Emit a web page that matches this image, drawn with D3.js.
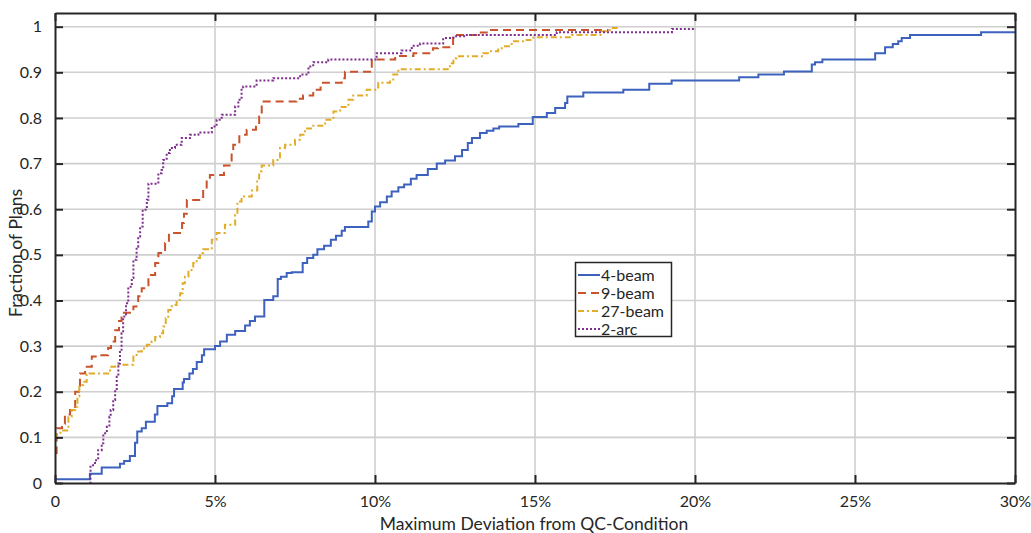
<!DOCTYPE html>
<html><head><meta charset="utf-8">
<script src="https://cdn.jsdelivr.net/npm/d3@7"></script>
<style>
body{margin:0;background:#fff;}
svg{display:block;font-family:Lato,"Open Sans",sans-serif;}
</style></head><body>
<svg id="c" width="1031" height="533"></svg>
<script>
// ---- data (x in %, y = fraction of plans; step-after) ----
const seriesNames = ["4-beam","9-beam","27-beam","2-arc"];
const xTicks = [0,5,10,15,20,25,30];
const xTickLabels = ["0","5%","10%","15%","20%","25%","30%"];
const yTicks = [0,0.1,0.2,0.3,0.4,0.5,0.6,0.7,0.8,0.9,1];
const yTickLabels = ["0","0.1","0.2","0.3","0.4","0.5","0.6","0.7","0.8","0.9","1"];

const beam4X = [0,1.09,1.46,2.03,2.16,2.34,2.5,2.57,2.71,2.84,3.12,3.2,3.51,3.66,3.72,3.99,4.03,4.2,4.31,4.43,4.59,4.66,5.0,5.16,5.37,5.63,5.94,6.09,6.25,6.54,6.82,6.96,7.06,7.24,7.4,7.74,7.88,8.07,8.2,8.41,8.62,8.78,8.96,9.06,9.79,9.9,10.0,10.16,10.37,10.52,10.73,10.91,11.12,11.3,11.65,11.93,12.19,12.5,12.72,12.9,13.03,13.28,13.49,13.7,13.88,14.48,14.93,15.37,15.63,15.94,16.01,16.51,17.76,18.57,19.27,21.38,21.98,22.78,23.65,23.75,23.98,25.63,25.94,26.18,26.35,26.46,26.72,28.94,30];
const beam4Y = [0.008,0.02,0.034,0.042,0.048,0.059,0.088,0.113,0.12,0.134,0.15,0.169,0.175,0.19,0.206,0.22,0.228,0.24,0.25,0.265,0.28,0.293,0.3,0.31,0.325,0.333,0.345,0.355,0.365,0.401,0.409,0.447,0.452,0.46,0.462,0.482,0.493,0.5,0.512,0.52,0.533,0.542,0.553,0.561,0.573,0.595,0.606,0.615,0.628,0.639,0.648,0.654,0.667,0.675,0.688,0.70,0.707,0.716,0.73,0.745,0.756,0.767,0.772,0.777,0.781,0.787,0.802,0.811,0.822,0.833,0.847,0.856,0.862,0.875,0.882,0.889,0.895,0.902,0.917,0.922,0.928,0.942,0.955,0.962,0.968,0.975,0.982,0.988,0.988];

const beam9X = [0,0.05,0.22,0.31,0.47,0.63,0.78,0.94,1.15,1.38,1.66,1.75,1.88,2.0,2.08,2.45,2.6,2.71,2.92,3.13,3.23,3.44,3.56,3.97,4.03,4.12,4.63,4.74,4.84,5.28,5.52,5.57,5.76,5.99,6.28,6.38,6.46,7.55,7.75,8.07,8.3,8.96,9.06,9.9,10.63,11.2,11.81,11.97,12.44,13.19,13.53,17.3];
const beam9Y = [0.066,0.12,0.13,0.15,0.16,0.2,0.24,0.255,0.277,0.28,0.296,0.31,0.335,0.355,0.373,0.387,0.409,0.427,0.456,0.482,0.504,0.526,0.548,0.57,0.59,0.62,0.643,0.664,0.675,0.696,0.723,0.741,0.763,0.774,0.783,0.803,0.836,0.842,0.849,0.862,0.877,0.887,0.901,0.928,0.936,0.942,0.953,0.955,0.982,0.987,0.993,0.993];

const beam27X = [0,0.05,0.21,0.42,0.52,0.63,0.7,0.76,0.88,0.99,1.07,1.72,1.88,2.45,2.55,2.71,2.87,3.02,3.13,3.28,3.38,3.46,3.54,3.65,3.8,3.91,3.99,4.06,4.17,4.32,4.43,4.53,4.63,4.9,5.05,5.31,5.63,5.7,5.83,6.15,6.32,6.38,6.46,6.82,7.03,7.19,7.5,7.66,7.81,8.07,8.44,8.7,8.91,9.17,9.32,9.74,10.1,10.47,10.57,10.73,12.34,12.45,12.55,13.38,13.59,13.85,14.06,14.27,14.63,14.95,16.15,17.08,17.34,17.55];
const beam27Y = [0.10,0.11,0.115,0.145,0.16,0.167,0.19,0.215,0.222,0.238,0.24,0.255,0.259,0.277,0.288,0.295,0.303,0.31,0.32,0.328,0.343,0.361,0.379,0.39,0.401,0.416,0.438,0.452,0.467,0.482,0.493,0.504,0.512,0.533,0.548,0.566,0.588,0.617,0.628,0.641,0.661,0.683,0.696,0.708,0.734,0.741,0.752,0.763,0.777,0.783,0.796,0.814,0.824,0.84,0.849,0.862,0.877,0.884,0.895,0.907,0.92,0.931,0.935,0.942,0.946,0.953,0.957,0.968,0.971,0.977,0.982,0.99,0.997,1.0];

const arc2X = [1.09,1.11,1.25,1.35,1.46,1.51,1.62,1.7,1.74,1.82,1.88,1.93,1.98,2.03,2.08,2.13,2.22,2.29,2.4,2.45,2.55,2.6,2.66,2.74,2.87,2.92,3.23,3.33,3.38,3.49,3.59,3.75,3.96,4.22,4.48,4.9,5.05,5.21,5.63,5.73,5.83,5.88,6.3,6.82,7.66,7.92,8.07,8.54,10.05,10.83,11.15,11.41,12.13,12.45,12.87,15.68,19.28,20.03];
const arc2Y = [0,0.039,0.05,0.072,0.087,0.109,0.123,0.145,0.16,0.182,0.204,0.233,0.262,0.292,0.328,0.365,0.394,0.43,0.449,0.489,0.518,0.54,0.562,0.599,0.621,0.656,0.679,0.686,0.708,0.723,0.734,0.741,0.756,0.763,0.768,0.781,0.796,0.807,0.825,0.84,0.865,0.869,0.882,0.887,0.895,0.913,0.922,0.928,0.942,0.948,0.958,0.963,0.975,0.979,0.982,0.988,0.995,0.995];

const seriesX = [beam4X, beam9X, beam27X, arc2X];
const seriesY = [beam4Y, beam9Y, beam27Y, arc2Y];
const colors = ["#3D62BE","#C9542B","#E2AC2A","#7E2F8E"];
const dashes = [null,"8,5","6,3,2,3","2,2"];

// ---- layout ----
const L = 55, R = 1015, T = 13, B = 483;
const svg = d3.select("#c");
const x = d3.scaleLinear().domain([0,30]).range([L,R]);
const y = d3.scaleLinear().domain([0,1.03]).range([B,T]);

// grid
const g = svg.append("g");
g.selectAll("line.gx").data(xTicks.slice(1,-1)).join("line")
  .attr("x1",d=>x(d)).attr("x2",d=>x(d)).attr("y1",T).attr("y2",B)
  .attr("stroke","#cfcfcf").attr("stroke-width",1.6);
g.selectAll("line.gy").data(yTicks.slice(1)).join("line")
  .attr("x1",L).attr("x2",R).attr("y1",d=>y(d)).attr("y2",d=>y(d))
  .attr("stroke","#cfcfcf").attr("stroke-width",1.6);

// curves
const line = d3.line().x(d=>x(d[0])).y(d=>y(d[1])).curve(d3.curveStepAfter);
seriesNames.forEach((n,i)=>{
  const pts = seriesX[i].map((v,k)=>[v, seriesY[i][k]]);
  svg.append("path").attr("d", line(pts)).attr("fill","none")
    .attr("stroke",colors[i]).attr("stroke-width",2)
    .attr("stroke-dasharray",dashes[i]);
});

// axes
const axFont = 16;
const ax = svg.append("g").attr("transform",`translate(0,${B})`)
  .call(d3.axisBottom(x).tickValues(xTicks).tickFormat((d,i)=>xTickLabels[i]).tickSizeInner(-8).tickSizeOuter(0).tickPadding(13));
const ay = svg.append("g").attr("transform",`translate(${L},0)`)
  .call(d3.axisLeft(y).tickValues(yTicks).tickFormat((d,i)=>yTickLabels[i]).tickSizeInner(-8).tickSizeOuter(0).tickPadding(13));
const at = svg.append("g").attr("transform",`translate(0,${T})`)
  .call(d3.axisTop(x).tickValues(xTicks).tickFormat("").tickSizeInner(-8).tickSizeOuter(0));
const ar = svg.append("g").attr("transform",`translate(${R},0)`)
  .call(d3.axisRight(y).tickValues(yTicks).tickFormat("").tickSizeInner(-8).tickSizeOuter(0));
[ax,ay,at,ar].forEach(a=>{
  a.select(".domain").attr("stroke","#262626").attr("stroke-width",2);
  a.selectAll(".tick line").attr("stroke","#262626").attr("stroke-width",2);
  a.selectAll(".tick text").attr("fill","#262626").attr("font-size",axFont).attr("font-family","Lato, sans-serif");
});

// axis titles
svg.append("text").attr("x",534).attr("y",530).attr("text-anchor","middle")
  .attr("font-size",17.5).attr("fill","#262626").text("Maximum Deviation from QC-Condition");
svg.append("text").attr("transform",`translate(22,${(T+B)/2+5}) rotate(-90)`).attr("text-anchor","middle")
  .attr("font-size",17.5).attr("fill","#262626").text("Fraction of Plans");

// legend
const lg = svg.append("g");
lg.append("rect").attr("x",575.5).attr("y",262.5).attr("width",96).attr("height",74)
  .attr("fill","#fff").attr("stroke","#262626").attr("stroke-width",1.5);
seriesNames.forEach((n,i)=>{
  const yy = 275 + i*18;
  lg.append("line").attr("x1",578).attr("x2",600).attr("y1",yy).attr("y2",yy)
    .attr("stroke",colors[i]).attr("stroke-width",2).attr("stroke-dasharray",dashes[i]);
  lg.append("text").attr("x",601).attr("y",yy+5.5).attr("font-size",16).attr("fill","#262626").text(n);
});
</script>
</body></html>
